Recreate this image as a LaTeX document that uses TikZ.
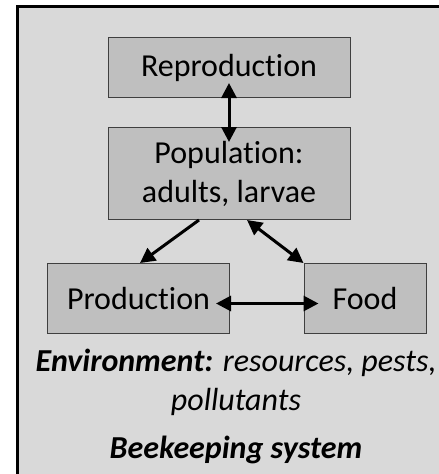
\documentclass[tikz,border=0pt]{standalone}
\usepackage{fontspec}
\setmainfont{Carlito}[Ligatures={NoCommon}]
\usetikzlibrary{positioning, arrows.meta}

\definecolor{outerfill}{HTML}{D9D9D9}
\definecolor{boxfill}{HTML}{BFBFBF}
\definecolor{boxline}{HTML}{3F3F3F}

\begin{document}
\begin{tikzpicture}[x=1pt, y=-1pt,
    every node/.style={font=\fontsize{32}{39}\selectfont},
    stage_box/.style={rectangle, draw=boxline, line width=1pt, fill=boxfill, align=center, inner sep=0pt},
    link/.style={line width=3pt, -{Triangle[length=15pt,width=15pt]}},
    dlink/.style={line width=3pt, {Triangle[length=15pt,width=15pt]}-{Triangle[length=15pt,width=15pt]}},
    ]
    \useasboundingbox (0,0) rectangle (439,474);
    \clip (0,0) rectangle (439,474);
    % Frame of the whole system
    \draw[fill=outerfill, line width=3pt] (17.5,6.5) rectangle (456,492);

    % Nodes
    \node[stage_box, minimum width=242pt, minimum height=60pt] (rep) at (229,67.5) {Reproduction};
    \node[stage_box, minimum width=242pt, minimum height=92pt] (pop) [below=29pt of rep] {Population:\\adults, larvae};
    \node[stage_box, minimum width=182pt, minimum height=70pt] (prod) at (138.5,298.5) {Production};
    \node[stage_box, minimum width=122pt, minimum height=70pt] (food) at (365,298.5) {Food};
    \node[align=center] (env) at (236,382) {\textbf{\textit{Environment:}} \textit{resources, pests,}\\\textit{pollutants}};
    \node (sys) [below=14pt of env] {\textbf{\textit{Beekeeping system}}};

    % Arrows (heads run into the boxes)
    \draw[dlink, shorten <=-15pt, shorten >=-15pt] (rep) -- (pop);
    \draw[link] ([xshift=-30pt]pop.south) -- ([xshift=1.5pt]prod.north);
    \draw[dlink] ([xshift=18pt]pop.south) -- (food.north west);
    \draw[dlink, shorten <=-14pt, shorten >=-15pt] ([yshift=-5pt]prod.east) -- ([yshift=-5pt]food.west);
\end{tikzpicture}
\end{document}
